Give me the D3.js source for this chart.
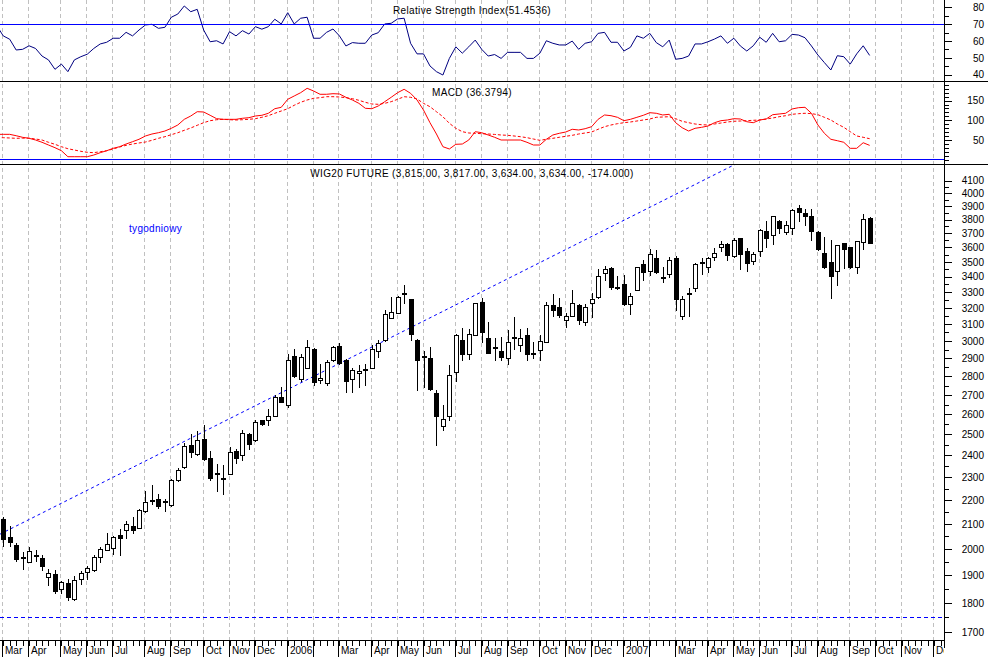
<!DOCTYPE html>
<html>
<head>
<meta charset="utf-8">
<script src="https://cdn.jsdelivr.net/npm/d3@7"></script>
<style>
  body { margin: 0; background: #fff; }
  svg { display: block; }
  text { font-family: "Liberation Sans", Arial, sans-serif; font-size: 10px; fill: #000; }
</style>
</head>
<body>
<div id="chart"></div>
<script>
// weekly bars, each dated on its Friday
var firstFriday = new Date(2005, 2, 4);
var lastSlot = 145; // the axis runs a few weeks past the data

var opens = [2120, 2048, 2017, 1969, 1951, 1978, 1965, 1895, 1903, 1850,
  1873, 1813, 1885, 1913, 1918, 1967, 1996, 2004, 2056, 2074,
  2091, 2084, 2153, 2202, 2203, 2196, 2178, 2288, 2345, 2449,
  2405, 2476, 2387, 2318, 2298, 2316, 2420, 2400, 2500, 2471,
  2569, 2572, 2591, 2688, 2647, 2914, 2786, 2844, 2956, 2778,
  2764, 2888, 2970, 2888, 2786, 2818, 2840, 2848, 2940, 3006,
  3136, 3170, 3296, 3253, 3006, 2914, 2902, 2709, 2543, 2590,
  2826, 3006, 2926, 3032, 3237, 3018, 2962, 2944, 2900, 3024,
  2974, 3034, 2930, 2946, 2996, 3215, 3206, 3128, 3152, 3215,
  3110, 3228, 3268, 3425, 3458, 3335, 3351, 3221, 3311, 3486,
  3437, 3528, 3392, 3417, 3528, 3152, 3292, 3324, 3500, 3464,
  3534, 3602, 3625, 3537, 3665, 3574, 3507, 3572, 3718, 3690,
  3788, 3713, 3740, 3888, 3852, 3824, 3713, 3561, 3500, 3437,
  3634, 3602, 3462, 3641, 3815];
var highs = [2127, 2091, 2022, 1987, 2009, 1997, 1977, 1922, 1918, 1879,
  1885, 1899, 1914, 1934, 1977, 2009, 2065, 2052, 2078, 2113,
  2127, 2163, 2237, 2267, 2225, 2203, 2290, 2342, 2460, 2503,
  2517, 2546, 2420, 2360, 2357, 2440, 2428, 2522, 2505, 2574,
  2574, 2625, 2700, 2745, 2922, 2956, 2926, 3006, 2960, 2870,
  2888, 2970, 2986, 2897, 2848, 2862, 2870, 2976, 3006, 3184,
  3268, 3274, 3347, 3253, 3010, 2940, 2962, 2727, 2650, 2862,
  3040, 3075, 3071, 3232, 3264, 3114, 3015, 3026, 3066, 3146,
  3070, 3079, 2996, 3034, 3237, 3285, 3261, 3169, 3311, 3221,
  3221, 3296, 3452, 3473, 3462, 3402, 3411, 3296, 3468, 3512,
  3588, 3584, 3462, 3534, 3540, 3274, 3327, 3494, 3528, 3534,
  3595, 3648, 3630, 3665, 3670, 3595, 3568, 3732, 3791, 3829,
  3800, 3793, 3878, 3913, 3883, 3878, 3718, 3672, 3653, 3620,
  3634, 3606, 3648, 3843, 3817];
var lows = [2011, 2013, 1952, 1922, 1949, 1954, 1919, 1864, 1837, 1837,
  1811, 1811, 1869, 1885, 1916, 1949, 1994, 1981, 1978, 2045,
  2065, 2082, 2150, 2184, 2168, 2153, 2176, 2282, 2343, 2392,
  2403, 2378, 2286, 2240, 2228, 2314, 2367, 2378, 2428, 2467,
  2549, 2549, 2591, 2662, 2638, 2797, 2773, 2844, 2755, 2764,
  2755, 2884, 2870, 2718, 2718, 2745, 2755, 2844, 2910, 3002,
  3136, 3170, 3232, 3006, 2727, 2745, 2727, 2448, 2522, 2569,
  2776, 2891, 2897, 3032, 2992, 2932, 2893, 2888, 2870, 2956,
  2940, 2891, 2900, 2888, 2996, 3150, 3145, 3080, 3148, 3100,
  3094, 3146, 3264, 3380, 3322, 3320, 3215, 3164, 3311, 3380,
  3413, 3423, 3363, 3396, 3184, 3132, 3152, 3305, 3420, 3433,
  3512, 3574, 3512, 3532, 3449, 3440, 3486, 3540, 3602, 3625,
  3700, 3696, 3696, 3788, 3763, 3653, 3580, 3460, 3264, 3345,
  3455, 3455, 3427, 3592, 3634];
var closes = [2038, 2026, 1960, 1966, 1991, 1976, 1933, 1910, 1841, 1876,
  1820, 1881, 1908, 1926, 1970, 2000, 2020, 2048, 2045, 2098,
  2074, 2157, 2193, 2198, 2176, 2195, 2288, 2333, 2444, 2417,
  2471, 2385, 2295, 2314, 2297, 2417, 2389, 2505, 2452, 2560,
  2552, 2591, 2688, 2662, 2892, 2804, 2910, 2966, 2768, 2791,
  2881, 2962, 2874, 2773, 2835, 2832, 2836, 2952, 2986, 3160,
  3174, 3268, 3292, 3043, 2891, 2910, 2733, 2591, 2578, 2805,
  3034, 2926, 3042, 3229, 3055, 2932, 2958, 2906, 2992, 3020,
  3020, 2924, 2926, 3002, 3215, 3186, 3157, 3152, 3232, 3122,
  3208, 3258, 3402, 3452, 3331, 3331, 3225, 3274, 3462, 3433,
  3554, 3433, 3395, 3512, 3254, 3258, 3288, 3486, 3497, 3524,
  3561, 3625, 3544, 3653, 3554, 3493, 3554, 3725, 3665, 3824,
  3740, 3763, 3871, 3859, 3831, 3718, 3587, 3464, 3406, 3620,
  3590, 3464, 3644, 3808, 3634];

// indicator series start one week before the first bar
var rsiValues = [69.2,
  63.1, 61.1, 54.7, 55.1, 57.2, 55.6, 51.1, 48.8, 43.2, 46.3,
  41.8, 48.8, 50.7, 52.2, 55.6, 58.3, 59.3, 61.7, 61.7, 65.2,
  63.1, 66.6, 69.6, 70.0, 67.6, 68.2, 74.2, 76.1, 80.9, 77.5,
  78.9, 66.6, 59.6, 60.2, 58.3, 65.6, 63.1, 66.2, 64.2, 68.6,
  67.1, 68.6, 73.0, 70.2, 76.9, 70.2, 73.6, 74.2, 61.7, 61.7,
  65.2, 67.2, 63.1, 57.1, 59.1, 58.7, 58.7, 63.6, 65.0, 70.2,
  70.6, 73.2, 73.6, 58.7, 52.4, 52.4, 45.2, 41.8, 39.8, 49.7,
  56.6, 52.8, 56.6, 60.6, 55.1, 51.1, 52.0, 49.7, 53.3, 53.3,
  53.3, 49.7, 49.7, 52.8, 60.2, 58.7, 57.7, 57.7, 60.0, 55.1,
  58.7, 59.6, 64.6, 65.2, 59.3, 59.3, 54.1, 56.3, 63.1, 61.7,
  64.6, 59.1, 56.6, 60.6, 49.2, 49.7, 51.1, 58.3, 58.3, 59.6,
  61.2, 63.1, 58.7, 61.7, 57.1, 54.1, 57.2, 62.3, 59.3, 64.6,
  59.6, 60.2, 64.0, 63.6, 62.0, 57.1, 51.7, 47.2, 42.8, 51.3,
  50.7, 46.3, 52.4, 57.2, 51.4536];
var macdValues = [64.4,
  64.4, 64.4, 60.9, 56.8, 54.3, 50.0, 44.2, 37.3, 30.5, 22.8,
  7.6, 7.6, 7.6, 7.6, 11.9, 17.8, 22.8, 28.9, 33.0, 39.8,
  45.7, 51.8, 60.2, 65.2, 68.5, 72.8, 79.7, 88.1, 102.5, 110.9,
  121.8, 121.1, 112.7, 104.1, 102.5, 102.5, 102.5, 105.1, 106.6, 110.9,
  112.7, 117.8, 129.4, 133.0, 153.3, 161.7, 170.1, 181.2, 174.4, 166.0,
  166.0, 167.5, 166.8, 158.4, 151.5, 143.1, 130.5, 129.4, 136.3, 147.2,
  158.4, 170.1, 178.7, 168.5, 151.5, 126.1, 93.9, 65.2, 33.0, 27.2,
  39.1, 39.8, 50.0, 71.1, 68.5, 62.7, 56.9, 50.0, 50.0, 50.0,
  50.0, 44.2, 37.3, 37.3, 51.8, 62.7, 67.0, 70.3, 77.2, 75.4,
  78.7, 83.8, 102.5, 113.5, 111.7, 107.6, 99.0, 102.5, 107.6, 112.7,
  119.3, 117.8, 113.5, 115.2, 93.9, 81.2, 72.8, 79.7, 82.2, 85.5,
  93.9, 99.0, 100.8, 104.1, 103.3, 96.4, 93.9, 100.8, 103.3, 114.2,
  116.0, 117.8, 128.7, 132.0, 133.0, 117.8, 88.1, 67.0, 51.8, 48.2,
  44.2, 28.9, 28.9, 43.1, 36.3794];
var signalValues = [55.9,
  55.9, 55.1, 54.3, 54.7, 54.7, 52.5, 50.0, 44.2, 39.1, 33.0,
  27.9, 24.6, 21.3, 18.8, 17.8, 20.3, 22.8, 27.2, 32.2, 36.5,
  39.8, 42.4, 44.9, 49.2, 54.3, 58.4, 63.5, 68.5, 74.6, 80.5,
  87.3, 93.9, 99.0, 101.5, 102.5, 101.5, 100.8, 101.5, 102.5, 104.1,
  107.6, 111.7, 117.8, 123.6, 129.4, 138.1, 145.7, 151.5, 155.8, 157.4,
  159.9, 159.9, 159.1, 157.4, 154.8, 150.8, 145.7, 141.4, 140.6, 143.1,
  147.2, 153.3, 159.9, 158.4, 154.1, 143.1, 134.5, 121.8, 109.1, 92.4,
  79.7, 71.1, 67.8, 67.0, 66.0, 65.2, 64.2, 62.7, 61.9, 60.2,
  58.4, 55.9, 52.5, 49.2, 51.8, 54.3, 56.9, 59.4, 61.9, 65.2,
  67.8, 70.3, 77.2, 83.8, 88.1, 91.4, 93.9, 95.7, 98.2, 100.8,
  103.3, 107.6, 108.4, 109.1, 104.1, 97.5, 93.9, 90.6, 88.8, 88.1,
  90.6, 93.1, 95.7, 97.5, 98.2, 99.0, 100.0, 100.8, 103.3, 105.8,
  109.1, 111.7, 115.2, 116.8, 117.8, 117.0, 114.2, 107.6, 100.8, 90.6,
  82.2, 71.1, 60.2, 56.9, 53.3];

var priceTicks = d3.range(1700, 4101, 100);
var priceMinorTicks = d3.range(1750, 4101, 100);
var rsiTicks = [40, 50, 60, 70, 80];
var rsiMinorTicks = [40, 45, 50, 55, 60, 65, 70, 75, 80];
var macdTicks = [50, 100, 150];
var macdMinorTicks = d3.range(-10, 191, 10);
var monthLabels = ["", "", "Mar", "Apr", "May", "Jun", "Jul", "Aug", "Sep", "Oct", "Nov", "Dec"];
var trendPoints = [[0, 2065], [100, 3893]];
var supportLevel = 1750;
var rsiLevel = 70;

var titleRsi = "Relative Strength Index(51.4536)";
var titleMacd = "MACD (36.3794)";
var titlePrice = "WIG20 FUTURE (3,815.00, 3,817.00, 3,634.00, 3,634.00, -174.000)";

function chart() {
  var w = 988;
  var h = 657;
  var plotW = 944;
  var axisY = 640;

  var bars = opens.map(function (o, i) {
    return { slot: i, open: o, high: highs[i], low: lows[i], close: closes[i] };
  });

  // x: one slot per week
  var x = d3.scaleLinear().domain([-0.5, lastSlot + 0.5]).range([0, plotW]);
  var yRsi = d3.scaleLinear().domain([35.65, 84.46]).range([82, 0]);
  var yMacd = d3.scaleLinear().domain([-10.9, 197.2]).range([164, 82]);
  var yPrice = d3.scaleLog().domain([1674.7, 4235.6]).range([axisY, 164]);

  var px = function (v) { return Math.round(v) + 0.5; };

  var svg = d3.select("#chart").append("svg")
    .attr("width", w)
    .attr("height", h);

  // clip areas for the three panels
  var defs = svg.append("defs");
  [["clipRsi", 0, 82], ["clipMacd", 82, 164], ["clipPrice", 164, axisY]].forEach(function (c) {
    defs.append("clipPath").attr("id", c[0])
      .append("rect").attr("x", 0).attr("y", c[1]).attr("width", plotW).attr("height", c[2] - c[1]);
  });
  defs.append("clipPath").attr("id", "clipAxisWide")
    .append("rect").attr("x", 0).attr("y", 0).attr("width", plotW).attr("height", 20);

  // week slots and the first week of each month
  var slots = d3.range(0, lastSlot + 1);
  var dates = slots.map(function (s) { return d3.timeDay.offset(firstFriday, 7 * s); });
  var monthStarts = slots.filter(function (s) {
    return s === 0 || dates[s].getMonth() !== dates[s - 1].getMonth();
  });

  // vertical month grid
  svg.append("g")
    .selectAll("line")
    .data(monthStarts)
    .enter()
    .append("line")
    .attr("x1", function (s) { return Math.round(x(s)) - 0.5; })
    .attr("x2", function (s) { return Math.round(x(s)) - 0.5; })
    .attr("y1", 0)
    .attr("y2", axisY)
    .attr("stroke", "#c0c0c0")
    .attr("stroke-dasharray", "4,3");

  var indicatorLine = function (scale) {
    return d3.line()
      .x(function (d, i) { return x(i - 1); })
      .y(function (d) { return scale(d); });
  };

  // ---- RSI panel
  svg.append("path")
    .attr("clip-path", "url(#clipRsi)")
    .attr("d", indicatorLine(yRsi)(rsiValues))
    .attr("fill", "none")
    .attr("stroke", "#000080")
    .attr("stroke-width", 1);

  // ---- MACD panel
  svg.append("path")
    .attr("clip-path", "url(#clipMacd)")
    .attr("d", indicatorLine(yMacd)(signalValues))
    .attr("fill", "none")
    .attr("stroke", "#ff0000")
    .attr("stroke-dasharray", "3,2");

  svg.append("path")
    .attr("clip-path", "url(#clipMacd)")
    .attr("d", indicatorLine(yMacd)(macdValues))
    .attr("fill", "none")
    .attr("stroke", "#ff0000");

  // ---- price panel: trend line through two points, stretched over the whole width
  var tx0 = x(trendPoints[0][0]), ty0 = yPrice(trendPoints[0][1]);
  var tx1 = x(trendPoints[1][0]), ty1 = yPrice(trendPoints[1][1]);
  var slope = (ty1 - ty0) / (tx1 - tx0);
  svg.append("line")
    .attr("clip-path", "url(#clipPrice)")
    .attr("x1", 0).attr("y1", ty0 - slope * tx0)
    .attr("x2", plotW).attr("y2", ty0 + slope * (plotW - tx0))
    .attr("stroke", "#0000ff")
    .attr("stroke-dasharray", "3,3");

  var candle = svg.append("g")
    .selectAll("g")
    .data(bars)
    .enter()
    .append("g")
    .attr("shape-rendering", "crispEdges");

  // wicks
  candle.append("line")
    .attr("x1", function (d) { return px(x(d.slot)); })
    .attr("x2", function (d) { return px(x(d.slot)); })
    .attr("y1", function (d) { return Math.round(yPrice(d.high)); })
    .attr("y2", function (d) { return Math.round(yPrice(d.low)) + 1; })
    .attr("stroke", "#000");

  // bodies: white when the week closed higher
  candle.append("rect")
    .attr("x", function (d) { return Math.round(x(d.slot)) - 1.5; })
    .attr("y", function (d) { return Math.round(yPrice(Math.max(d.open, d.close))) + 0.5; })
    .attr("width", 4)
    .attr("height", function (d) {
      return Math.max(1, Math.round(yPrice(Math.min(d.open, d.close))) - Math.round(yPrice(Math.max(d.open, d.close))));
    })
    .attr("fill", function (d) { return d.close >= d.open ? "#fff" : "#000"; })
    .attr("stroke", "#000");

  svg.append("text")
    .attr("x", 129)
    .attr("y", 232)
    .style("fill", "#0000ff")
    .style("letter-spacing", "0.3px")
    .text("tygodniowy");

  // ---- titles
  [[titleRsi, 13.5], [titleMacd, 95.5], [titlePrice, 177]].forEach(function (t) {
    svg.append("text")
      .attr("x", plotW / 2)
      .attr("y", t[1])
      .attr("text-anchor", "middle")
      .style("letter-spacing", "0.35px")
      .text(t[0]);
  });

  // ---- frame lines
  svg.append("line").attr("x1", 0).attr("x2", w).attr("y1", 81.5).attr("y2", 81.5).attr("stroke", "#000");
  svg.append("line").attr("x1", 0).attr("x2", w).attr("y1", 164.5).attr("y2", 164.5).attr("stroke", "#000");
  svg.append("line").attr("x1", plotW + 0.5).attr("x2", plotW + 0.5).attr("y1", 0).attr("y2", 648).attr("stroke", "#000");
  svg.append("line").attr("x1", 0).attr("x2", plotW).attr("y1", axisY + 0.5).attr("y2", axisY + 0.5).attr("stroke", "#000");

  // ---- blue level lines
  [[yRsi(rsiLevel), null], [yMacd(0), null], [yPrice(supportLevel), "4,3"]].forEach(function (l) {
    svg.append("line")
      .attr("x1", 0).attr("x2", plotW)
      .attr("y1", Math.floor(l[0]) + 0.5).attr("y2", Math.floor(l[0]) + 0.5)
      .attr("stroke", "#0000ff")
      .attr("stroke-dasharray", l[1]);
  });

  // ---- right axes
  var rightAxis = function (scale, major, minor, fmt) {
    var g = svg.append("g").attr("transform", "translate(" + (plotW + 0.5) + ",0)");
    g.append("g")
      .call(d3.axisRight(scale).tickValues(minor).tickSize(4).tickFormat(""))
      .call(function (a) { a.select(".domain").remove(); });
    g.append("g")
      .call(d3.axisRight(scale).tickValues(major).tickSize(7).tickFormat(fmt))
      .call(function (a) {
        a.select(".domain").remove();
        a.selectAll("text")
          .attr("x", 39.5)
          .attr("text-anchor", "end")
          .style("font-family", "'Liberation Sans', Arial, sans-serif")
          .style("font-size", "10px");
      });
    g.selectAll(".tick line").attr("stroke", "#000").attr("shape-rendering", "crispEdges");
  };
  rightAxis(yRsi, rsiTicks, rsiMinorTicks, d3.format("d"));
  rightAxis(yMacd, macdTicks, macdMinorTicks, d3.format("d"));
  rightAxis(yPrice, priceTicks, priceMinorTicks, d3.format("d"));

  // ---- bottom axis: week ticks and month separators
  var weekAxis = svg.append("g")
    .attr("transform", "translate(0," + (axisY + 0.5) + ")")
    .attr("clip-path", "url(#clipAxisWide)");
  weekAxis.append("g")
    .attr("transform", "translate(0.5,0)")
    .call(d3.axisBottom(x).tickValues(slots).tickSize(5).tickFormat(""))
    .call(function (a) {
      a.select(".domain").remove();
      a.selectAll(".tick").attr("transform", function (s) { return "translate(" + Math.round(x(s)) + ",0)"; });
    });
  weekAxis.append("g")
    .call(d3.axisBottom(x).tickValues(monthStarts).tickSize(17).tickFormat(function (s) {
      var d = dates[s];
      return d.getMonth() === 0 ? String(d.getFullYear()) : monthLabels[d.getMonth()];
    }))
    .call(function (a) {
      a.select(".domain").remove();
      a.selectAll(".tick").attr("transform", function (s) { return "translate(" + (Math.round(x(s)) - 0.5) + ",0)"; });
      a.selectAll("text")
        .attr("x", 2.5)
        .attr("y", 6)
        .attr("dy", "0.71em")
        .attr("text-anchor", "start")
        .style("font-family", "'Liberation Sans', Arial, sans-serif")
        .style("font-size", "10px");
    });
  weekAxis.selectAll(".tick line").attr("stroke", "#000").attr("shape-rendering", "crispEdges");
}

chart();
</script>
</body>
</html>
